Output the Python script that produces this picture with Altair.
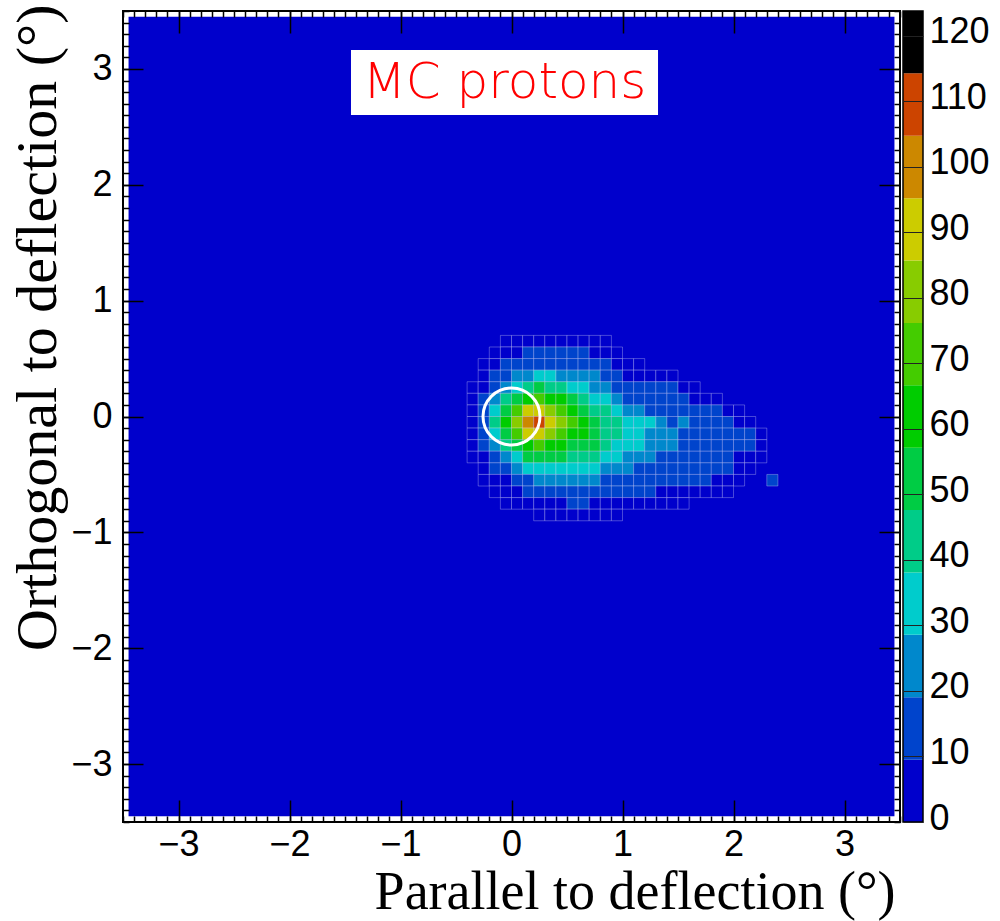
import altair as alt
import pandas as pd

# ---------------- data ----------------
# bin centres (0.1 deg bins) of the populated part of the 2-D histogram
x_centres = [-0.35, -0.25, -0.15, -0.05, 0.05, 0.15, 0.25, 0.35, 0.45, 0.55,
             0.65, 0.75, 0.85, 0.95, 1.05, 1.15, 1.25, 1.35, 1.45, 1.55,
             1.65, 1.75, 1.85, 1.95, 2.05, 2.15, 2.25, 2.35]
y_centres = [0.65, 0.55, 0.45, 0.35, 0.25, 0.15, 0.05, -0.05, -0.15, -0.25,
             -0.35, -0.45, -0.55, -0.65, -0.75, -0.85]

# counts per bin, one list per y row (top to bottom), trailing zeros omitted
row_065 = [0, 0, 0, 1, 3, 4, 6, 5, 4, 4, 4, 3, 2]
row_055 = [0, 0, 2, 5, 8, 11, 12, 11, 11, 11, 10, 9, 7, 4]
row_045 = [0, 2, 6, 10, 14, 16, 17, 18, 17, 16, 15, 14, 10, 7, 4, 2]
row_035 = [0, 5, 11, 17, 24, 28, 30, 30, 28, 25, 22, 20, 16, 10, 7, 5, 4, 4, 4]
row_025 = [2, 9, 18, 28, 38, 44, 48, 46, 42, 38, 32, 28, 24, 18, 10, 10, 10, 10, 10, 8, 5]
row_015 = [4, 12, 27, 42, 56, 64, 68, 64, 58, 52, 44, 38, 32, 27, 17, 14, 13, 13, 12, 10, 9, 7, 5]
row_005 = [6, 16, 36, 54, 72, 86, 88, 82, 72, 63, 55, 47, 40, 35, 27, 22, 19, 17, 15, 14, 12, 11, 10, 7, 3]
row_m005 = [7, 18, 40, 58, 80, 100, 112, 92, 78, 68, 60, 52, 45, 40, 33, 29, 29, 21, 18, 20, 14, 13, 12, 10, 8, 5]
row_m015 = [6, 15, 36, 52, 72, 88, 88, 84, 74, 66, 60, 54, 46, 41, 35, 31, 27, 24, 20, 17, 15, 14, 13, 12, 11, 10, 9]
row_m025 = [4, 11, 27, 40, 56, 66, 67, 66, 62, 56, 52, 48, 42, 38, 33, 30, 26, 24, 21, 18, 15, 13, 12, 12, 11, 10, 6]
row_m035 = [2, 7, 17, 27, 38, 48, 52, 50, 48, 45, 42, 39, 35, 31, 27, 24, 21, 19, 17, 15, 14, 13, 12, 11, 9, 6, 3]
row_m045 = [0, 4, 10, 16, 24, 30, 33, 34, 34, 33, 31, 29, 26, 23, 20, 18, 16, 15, 14, 13, 12, 12, 11, 10, 6, 3]
row_m055 = [0, 2, 5, 8, 14, 18, 21, 22, 22, 22, 21, 20, 18, 16, 14, 13, 12, 11, 11, 11, 10, 10, 9, 6, 3, 0, 0, 12]
row_m065 = [0, 0, 2, 4, 7, 10, 13, 14, 15, 15, 14, 14, 13, 12, 11, 10, 10, 9, 8, 7, 6, 5, 4, 2]
row_m075 = [0, 0, 0, 1, 3, 5, 8, 8, 9, 10, 10, 9, 9, 8, 6, 5, 4, 3, 3, 2]
row_m085 = [0, 0, 0, 0, 0, 0, 3, 3, 4, 4, 4, 4, 3, 2]
count_rows = [row_065, row_055, row_045, row_035, row_025, row_015, row_005,
              row_m005, row_m015, row_m025, row_m035, row_m045, row_m055,
              row_m065, row_m075, row_m085]

bin_half = 0.05
hist_extent = [-3.45, 3.45]          # first / last bin centre of the histogram
contour_levels = [0, 9.52, 19.05, 28.57, 38.09, 47.62, 57.14, 66.66, 76.18,
                  85.71, 95.23, 104.75, 114.28, 123.8]
level_colours = ["#0000cc", "#0044cc", "#0088cc", "#00cccc", "#00cc88",
                 "#00cc44", "#00cc00", "#44cc00", "#88cc00", "#cccc00",
                 "#cc8800", "#cc4400", "#000000"]
axis_ticks = [-3, -2, -1, 0, 1, 2, 3]
cbar_ticks = [0, 10, 20, 30, 40, 50, 60, 70, 80, 90, 100, 110, 120]
cone_centre_x = [0.0]
cone_centre_y = [0.0]
label_text = ["MC protons"]
label_box_x = [-1.446, 1.32]
label_box_y = [2.602, 3.163]

# ---------------- tables ----------------
cells = []
for yc, row in zip(y_centres, count_rows):
    full = row + [0] * (len(x_centres) - len(row))
    for xc, n in zip(x_centres, full):
        if n > 0:
            cells.append({"x0": xc - bin_half, "x1": xc + bin_half,
                          "y0": yc - bin_half, "y1": yc + bin_half, "n": n})
cells = pd.DataFrame(cells)

bg = pd.DataFrame({"x0": [hist_extent[0]], "x1": [hist_extent[1]],
                   "y0": [hist_extent[0]], "y1": [hist_extent[1]]})
cone = pd.DataFrame({"x": cone_centre_x, "y": cone_centre_y})
lab = pd.DataFrame({"x0": [label_box_x[0]], "x1": [label_box_x[1]],
                    "y0": [label_box_y[0]], "y1": [label_box_y[1]],
                    "xm": [(label_box_x[0] + label_box_x[1]) / 2],
                    "ym": [(label_box_y[0] + label_box_y[1]) / 2],
                    "t": label_text})
cbar_df = pd.DataFrame({"lo": contour_levels[:-1], "hi": contour_levels[1:],
                        "colour": level_colours})
cbar_frame = pd.DataFrame({"lo": [contour_levels[0]], "hi": [contour_levels[-1]]})

# ---------------- styling ----------------
W, H = 777, 811
TICK_FONT = "Liberation Sans"
TITLE_FONT = "Liberation Serif"
LABEL_SIZE = 36
xs = alt.Scale(domain=[-3.5, 3.5], nice=False, zero=False)
ys = alt.Scale(domain=[-3.5, 3.5], nice=False, zero=False)

x_label_axis = alt.Axis(values=axis_ticks, ticks=False, tickSize=0, domain=False,
                        grid=False, labelFont=TICK_FONT, labelFontSize=LABEL_SIZE,
                        labelColor="black", labelPadding=5, labelFlush=False,
                        labelOverlap=False,
                        title="Parallel to deflection (°)", titleFont=TITLE_FONT,
                        titleFontSize=54, titleFontWeight="normal",
                        titleColor="black", titleAlign="right",
                        titleBaseline="alphabetic", titleX=772, titleY=86)
y_label_axis = alt.Axis(values=axis_ticks, ticks=False, tickSize=0, domain=False,
                        grid=False, labelFont=TICK_FONT, labelFontSize=LABEL_SIZE,
                        labelColor="black", labelPadding=11, labelFlush=False,
                        labelOverlap=False,
                        title="Orthogonal to deflection (°)", titleFont=TITLE_FONT,
                        titleFontSize=58, titleFontWeight="normal",
                        titleColor="black", titleAngle=270, titleAlign="right",
                        titleBaseline="alphabetic", titleX=-68, titleY=-7)


def tick_axis(orient, size, values=None, count=None):
    kw = dict(orient=orient, offset=-size, tickSize=size, ticks=True,
              labels=False, domain=False, grid=False, tickColor="black",
              tickWidth=1.5, title=None, zindex=2)
    if values is not None:
        kw["values"] = values
    if count is not None:
        kw["tickCount"] = count
    return alt.Axis(**kw)


base_bg = alt.Chart(bg)

background = base_bg.mark_rect(color=level_colours[0]).encode(
    x=alt.X("x0:Q", scale=xs, axis=x_label_axis),
    x2="x1:Q",
    y=alt.Y("y0:Q", scale=ys, axis=y_label_axis),
    y2="y1:Q",
)

heat = alt.Chart(cells).mark_rect(stroke="white", strokeOpacity=0.28,
                                  strokeWidth=1).encode(
    x=alt.X("x0:Q", scale=xs, axis=None),
    x2="x1:Q",
    y=alt.Y("y0:Q", scale=ys, axis=None),
    y2="y1:Q",
    color=alt.Color("n:Q", legend=None,
                    scale=alt.Scale(type="threshold",
                                    domain=contour_levels[1:-1],
                                    range=level_colours)),
)

circle = alt.Chart(cone).mark_point(shape="circle", filled=False, stroke="white",
                                    strokeWidth=3, size=3250, opacity=1).encode(
    x=alt.X("x:Q", scale=xs, axis=None),
    y=alt.Y("y:Q", scale=ys, axis=None),
)

label_box = alt.Chart(lab).mark_rect(color="white").encode(
    x=alt.X("x0:Q", scale=xs, axis=None), x2="x1:Q",
    y=alt.Y("y0:Q", scale=ys, axis=None), y2="y1:Q",
)
label_txt = alt.Chart(lab).mark_text(font="DejaVu Sans", fontSize=50,
                                     fontWeight=200,
                                     color="#ff0000", align="center",
                                     baseline="middle").encode(
    x=alt.X("xm:Q", scale=xs, axis=None),
    y=alt.Y("ym:Q", scale=ys, axis=None),
    text="t:N",
)

tick_layers = []
for orient, size, vals, cnt in [("bottom", 22, axis_ticks, None),
                                ("bottom", 6, None, 70),
                                ("top", 22, axis_ticks, None),
                                ("top", 6, None, 70)]:
    tick_layers.append(base_bg.mark_point(opacity=0).encode(
        x=alt.X("x0:Q", scale=xs, axis=tick_axis(orient, size, vals, cnt)),
        y=alt.Y("y0:Q", scale=ys, axis=None)))
for orient, size, vals, cnt in [("left", 20, axis_ticks, None),
                                ("left", 6, None, 70),
                                ("right", 21, axis_ticks, None),
                                ("right", 6, None, 70)]:
    tick_layers.append(base_bg.mark_point(opacity=0).encode(
        x=alt.X("x0:Q", scale=xs, axis=None),
        y=alt.Y("y0:Q", scale=ys, axis=tick_axis(orient, size, vals, cnt))))

main = alt.layer(background, heat, circle, label_box, label_txt,
                 *tick_layers).resolve_axis(x="independent", y="independent")

cscale = alt.Scale(domain=[contour_levels[0], contour_levels[-1]], nice=False, zero=False)
cbar_axis = alt.Axis(orient="right", offset=3, values=cbar_ticks,
                     tickSize=20, tickColor="#222222", tickWidth=1,
                     domain=False, grid=False, labelFont=TICK_FONT,
                     labelFontSize=LABEL_SIZE, labelColor="black", labelPadding=6,
                     labelBaseline="middle", labelOffset=-4,
                     labelFlush=False, labelOverlap=False, title=None,
                     zindex=2)
cbar_boxes = alt.Chart(cbar_df).mark_rect().encode(
    x=alt.value(W + 3), x2=alt.value(W + 23),
    y=alt.Y("lo:Q", scale=cscale, axis=cbar_axis),
    y2="hi:Q",
    color=alt.Color("colour:N", scale=None, legend=None),
)
cbar_outline = alt.Chart(cbar_frame).mark_rect(fill=None, stroke="black",
                                               strokeWidth=1.5).encode(
    x=alt.value(W + 3), x2=alt.value(W + 23),
    y=alt.Y("lo:Q", scale=cscale, axis=cbar_axis),
    y2="hi:Q",
)
cbar = alt.layer(cbar_boxes, cbar_outline)

chart = alt.layer(main, cbar).resolve_scale(y="independent").resolve_axis(
    y="independent").properties(
    width=W, height=H,
    padding={"left": 123, "top": 11, "right": 100, "bottom": 99},
    autosize=alt.AutoSizeParams(type="none"),
    background="white",
).configure_view(stroke="black", strokeWidth=2)

chart.save("out.html", embed_options={"renderer": "svg", "actions": False})
